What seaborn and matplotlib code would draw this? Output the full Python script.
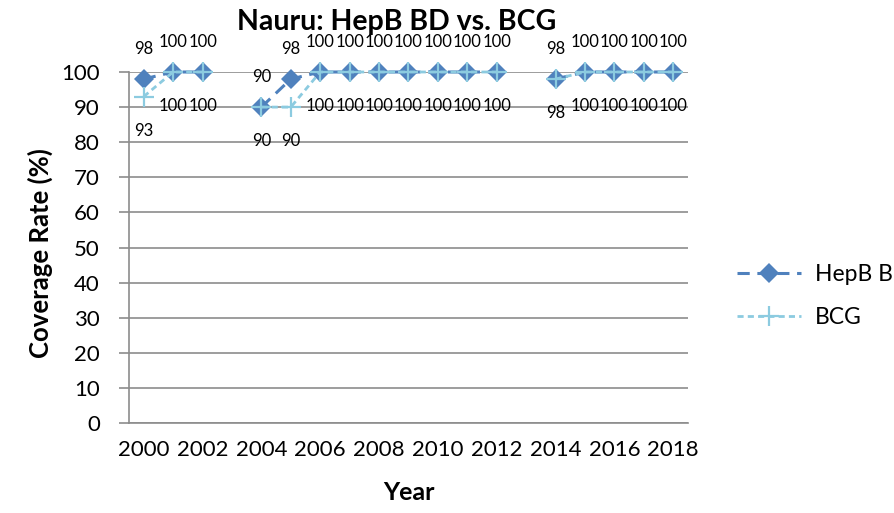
import numpy as np
import pandas as pd
import seaborn as sns
import matplotlib.pyplot as plt
from matplotlib.lines import Line2D

years = list(range(2000, 2019))
hepb_bd = [98, 100, 100, None, 90, 98, 100, 100, 100, 100, 100, 100, 100, None, 98, 100, 100, 100, 100]
bcg = [93, 100, 100, None, 90, 90, 100, 100, 100, 100, 100, 100, 100, None, 98, 100, 100, 100, 100]
tick_years = list(range(2000, 2019, 2))

hepbColor = '#4F81BD'
bcgColor = '#8CCBE0'
gridColor = '#8C8C8C'


def toFrame(values):
    frame = pd.DataFrame({'year': years, 'value': values}, dtype=float)
    # break the line where a year is missing
    frame['seg'] = frame['value'].isna().cumsum()
    return frame.dropna()


sns.set_style('white')
plt.rcParams['font.family'] = ['Lato', 'DejaVu Sans']
plt.rcParams['text.color'] = 'black'
plt.rcParams['xtick.labelcolor'] = 'black'
plt.rcParams['ytick.labelcolor'] = 'black'
plt.rcParams['axes.labelcolor'] = 'black'

fig = plt.figure(figsize=(8.95, 5.13), dpi=100)
ax = fig.add_axes([129 / 895, 1 - 423 / 513, 559 / 895, 351 / 513])

hepbFrame = toFrame(hepb_bd)
bcgFrame = toFrame(bcg)

sns.lineplot(data=hepbFrame, x='year', y='value', units='seg', estimator=None, ax=ax,
             color=hepbColor, linestyle=(0, (4, 2.5)), linewidth=2.2, marker='D',
             markersize=10, markeredgewidth=0, clip_on=False, zorder=3)
sns.lineplot(data=bcgFrame, x='year', y='value', units='seg', estimator=None, ax=ax,
             color=bcgColor, linestyle=(0, (2.2, 1.5)), linewidth=2.0, marker='+',
             markersize=15, markeredgewidth=1.6, markeredgecolor=bcgColor,
             clip_on=False, zorder=4)

for x, y in zip(hepbFrame['year'], hepbFrame['value']):
    ax.annotate(f'{y:.0f}', (x, y), xytext=(0, 30), textcoords='offset pixels',
                ha='center', va='center', fontsize=12, annotation_clip=False)
for x, y in zip(bcgFrame['year'], bcgFrame['value']):
    ax.annotate(f'{y:.0f}', (x, y), xytext=(0, -34), textcoords='offset pixels',
                ha='center', va='center', fontsize=12, annotation_clip=False)

ax.set_xlim(1999.5, 2018.5)
ax.set_ylim(0, 100)
ax.set_yticks(range(0, 101, 10))
ax.set_xticks(tick_years)
ax.set_xticks(np.arange(1999.5, 2019, 1), minor=True)
ax.tick_params(axis='x', which='major', length=0, labelsize=16, pad=12)
ax.tick_params(axis='x', which='minor', length=7, width=1.2, color=gridColor, direction='out')
ax.tick_params(axis='y', length=7, width=1.2, color=gridColor, labelsize=16, pad=14, left=True)

ax.yaxis.grid(True, color=gridColor, linewidth=1.2)
ax.xaxis.grid(False)
ax.set_axisbelow(True)
sns.despine(ax=ax)
for side in ['left', 'bottom']:
    ax.spines[side].set_color(gridColor)
    ax.spines[side].set_linewidth(1.2)

ax.set_xlabel('Year', fontsize=18, fontweight='bold')
ax.set_ylabel('Coverage Rate (%)', fontsize=18.5, fontweight='bold')
ax.xaxis.set_label_coords(0.5, -(481 - 423) / 351)
ax.yaxis.set_label_coords(-(129 - 53) / 559, (423 - 253) / 351)
fig.text(397 / 895, 1 - 22 / 513, 'Nauru: HepB BD vs. BCG', ha='center', va='center',
         fontsize=20.5, fontweight='bold')

handles = [
    Line2D([], [], color=hepbColor, linestyle=(0, (4, 2.5)), linewidth=2.2, marker='D',
           markersize=10, markeredgewidth=0),
    Line2D([], [], color=bcgColor, linestyle=(0, (2.2, 1.5)), linewidth=2.0, marker='+',
           markersize=15, markeredgewidth=1.6),
]
fig.legend(handles, ['HepB BD', 'BCG'], loc='center left', bbox_to_anchor=(737 / 895, 1 - 296 / 513),
           frameon=False, fontsize=16.5, handlelength=2.8, handletextpad=0.6, labelspacing=0.95,
           borderpad=0, borderaxespad=0)

fig.savefig('out.png', dpi=100)
